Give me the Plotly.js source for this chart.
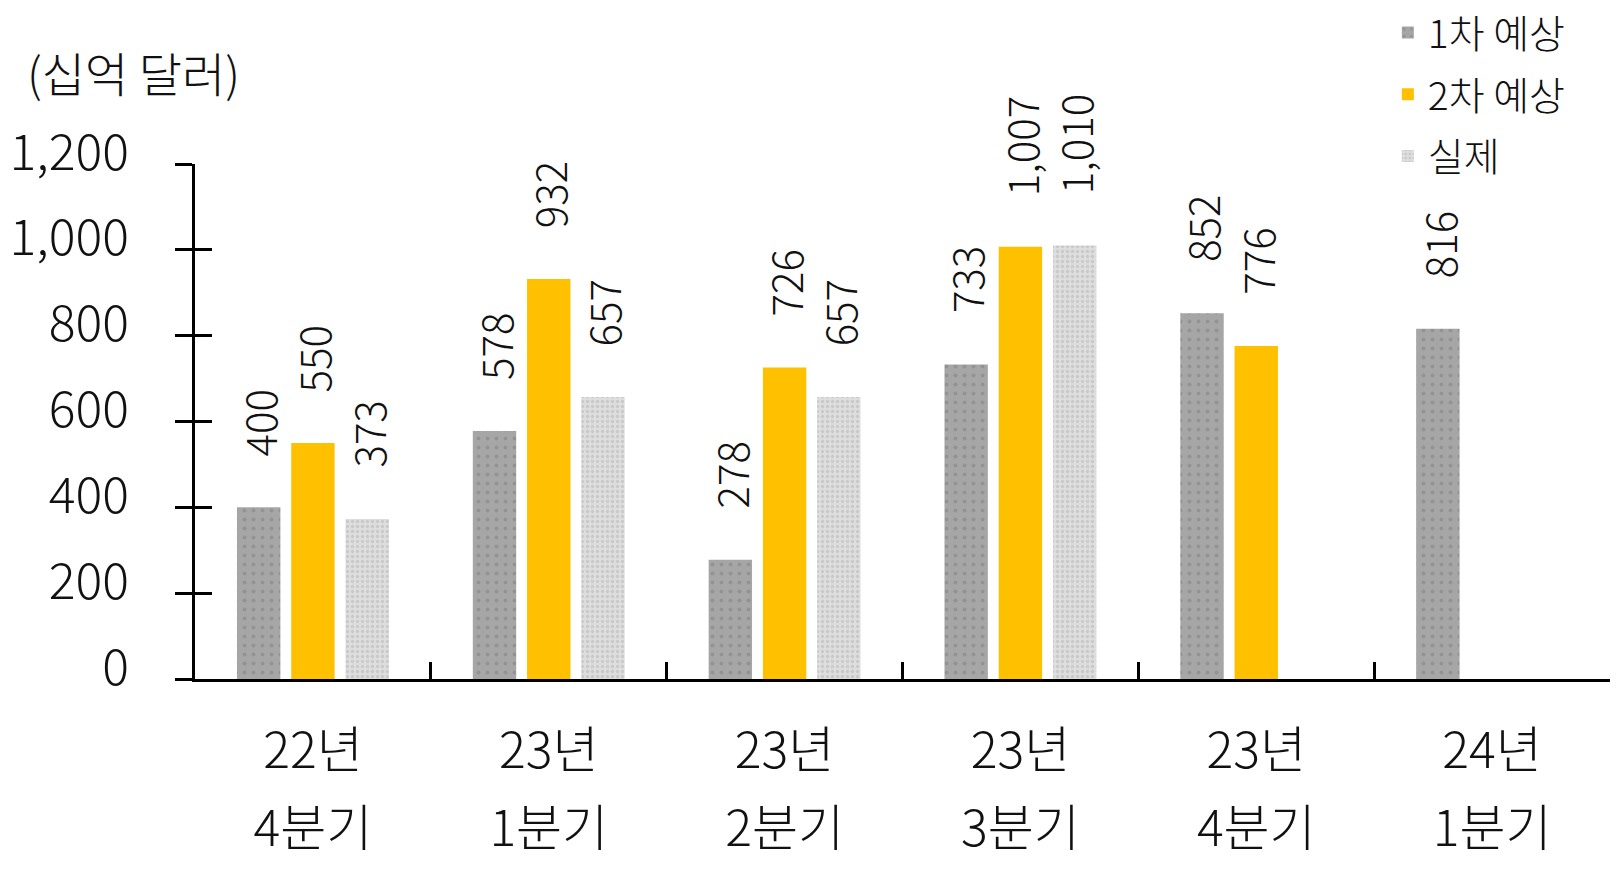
<!DOCTYPE html>
<html>
<head>
<meta charset="utf-8">
<script src="https://cdn.plot.ly/plotly-3.0.1.min.js"></script>
<style>
  body { margin: 0; background: #fff; }
  #chart { width: 1623px; height: 895px; }
</style>
</head>
<body>
<div id="chart"></div>
<script>
// period categories and the two rows of tick labels
const periods = ['22년 4분기', '23년 1분기', '23년 2분기', '23년 3분기', '23년 4분기', '24년 1분기'];
const yearLabels = ['22년', '23년', '23년', '23년', '23년', '24년'];
const quarterLabels = ['4분기', '1분기', '2분기', '3분기', '4분기', '1분기'];

// values (십억 달러)
const firstEstimate = [400, 578, 278, 733, 852, 816];
const secondEstimate = [550, 932, 726, 1007, 776, null];
const actual = [373, 657, 657, 1010, null, null];

const seriesNames = ['1차 예상', '2차 예상', '실제'];
const yTicks = [0, 200, 400, 600, 800, 1000, 1200];

const FONT = '"Noto Sans CJK KR", "Noto Sans", sans-serif';
const BARGAP = 0.31;

const series = [firstEstimate, secondEstimate, actual];
const markers = [
  {color: '#a6a6a6', pattern: {shape: '.', fgcolor: '#939393', bgcolor: '#a6a6a6', size: 9, solidity: 0.15}},
  {color: '#ffc000'},
  {color: '#dadada', pattern: {shape: '.', fgcolor: '#c9c9c9', bgcolor: '#dedede', size: 5, solidity: 0.35}},
];

const traces = series.map((vals, k) => ({
  type: 'bar',
  name: seriesNames[k],
  x: periods,
  y: vals,
  marker: Object.assign({line: {width: 0}}, markers[k]),
  legendgroup: 'g' + k,
  hoverinfo: 'x+y+name',
}));

// helper trace so the second label row and inner y ticks get drawn
traces.push({
  type: 'scatter', mode: 'none', x: periods, y: periods.map(() => 0),
  xaxis: 'x2', yaxis: 'y2', showlegend: false, hoverinfo: 'skip',
});

// rotated value labels above each bar
const slot = (1 - BARGAP) / 3;
const annotations = [];
series.forEach((vals, k) => {
  vals.forEach((v, i) => {
    if (v == null) return;
    annotations.push({
      x: i + (k - 1) * slot, y: v, xref: 'x', yref: 'y',
      text: v.toLocaleString('en-US'),
      textangle: -90, showarrow: false,
      xanchor: 'center', yanchor: 'bottom', yshift: 50,
      borderpad: 0,
      font: {family: FONT, size: 42, color: '#111', weight: 300},
    });
  });
});

annotations.push({
  xref: 'paper', yref: 'paper', x: -0.12, y: 1.18,
  xanchor: 'left', yanchor: 'middle', showarrow: false,
  text: '(십억 달러)',
  font: {family: FONT, size: 47, color: '#111', weight: 300},
});

const layout = {
  width: 1623,
  height: 895,
  margin: {l: 195, r: 13, t: 164, b: 216, autoexpand: false},
  paper_bgcolor: '#fff',
  plot_bgcolor: '#fff',
  barmode: 'group',
  bargap: BARGAP,
  bargroupgap: 0.2,
  font: {family: FONT, color: '#111', weight: 300},
  showlegend: true,
  legend: {
    x: 0.843, y: 1.317, xanchor: 'left', yanchor: 'top',
    font: {family: FONT, size: 39, color: '#111', weight: 300},
    tracegroupgap: 8,
    bgcolor: 'rgba(0,0,0,0)',
  },
  xaxis: {
    type: 'category',
    categoryarray: periods,
    tickvals: periods,
    ticktext: yearLabels,
    showline: true, linecolor: '#000', linewidth: 3,
    ticks: 'inside', tickson: 'boundaries', ticklen: 17, tickwidth: 3, tickcolor: '#000',
    ticklabelstandoff: 26,
    tickfont: {family: FONT, size: 50, color: '#111', weight: 300},
    showgrid: false, zeroline: false,
  },
  xaxis2: {
    type: 'category',
    overlaying: 'x', anchor: 'y', matches: 'x',
    categoryarray: periods,
    tickvals: periods,
    ticktext: quarterLabels,
    showline: false, ticks: '',
    ticklabelstandoff: 116,
    tickfont: {family: FONT, size: 50, color: '#111', weight: 300},
    showgrid: false, zeroline: false,
  },
  yaxis: {
    range: [0, 1200],
    tickvals: yTicks,
    tickformat: ',d',
    showline: true, linecolor: '#000', linewidth: 3,
    ticks: 'outside', ticklen: 17, tickwidth: 3, tickcolor: '#000',
    ticklabelstandoff: 36,
    ticklabelshift: -12,
    tickfont: {family: FONT, size: 50, color: '#111', weight: 300},
    showgrid: false, zeroline: false,
  },
  yaxis2: {
    overlaying: 'y', anchor: 'x', matches: 'y',
    range: [0, 1200],
    tickvals: yTicks,
    showticklabels: false,
    showline: false,
    ticks: 'inside', ticklen: 17, tickwidth: 3, tickcolor: '#000',
    showgrid: false, zeroline: false,
  },
  annotations: annotations,
};

Plotly.newPlot('chart', traces, layout, {displayModeBar: false, responsive: false});
</script>
</body>
</html>
